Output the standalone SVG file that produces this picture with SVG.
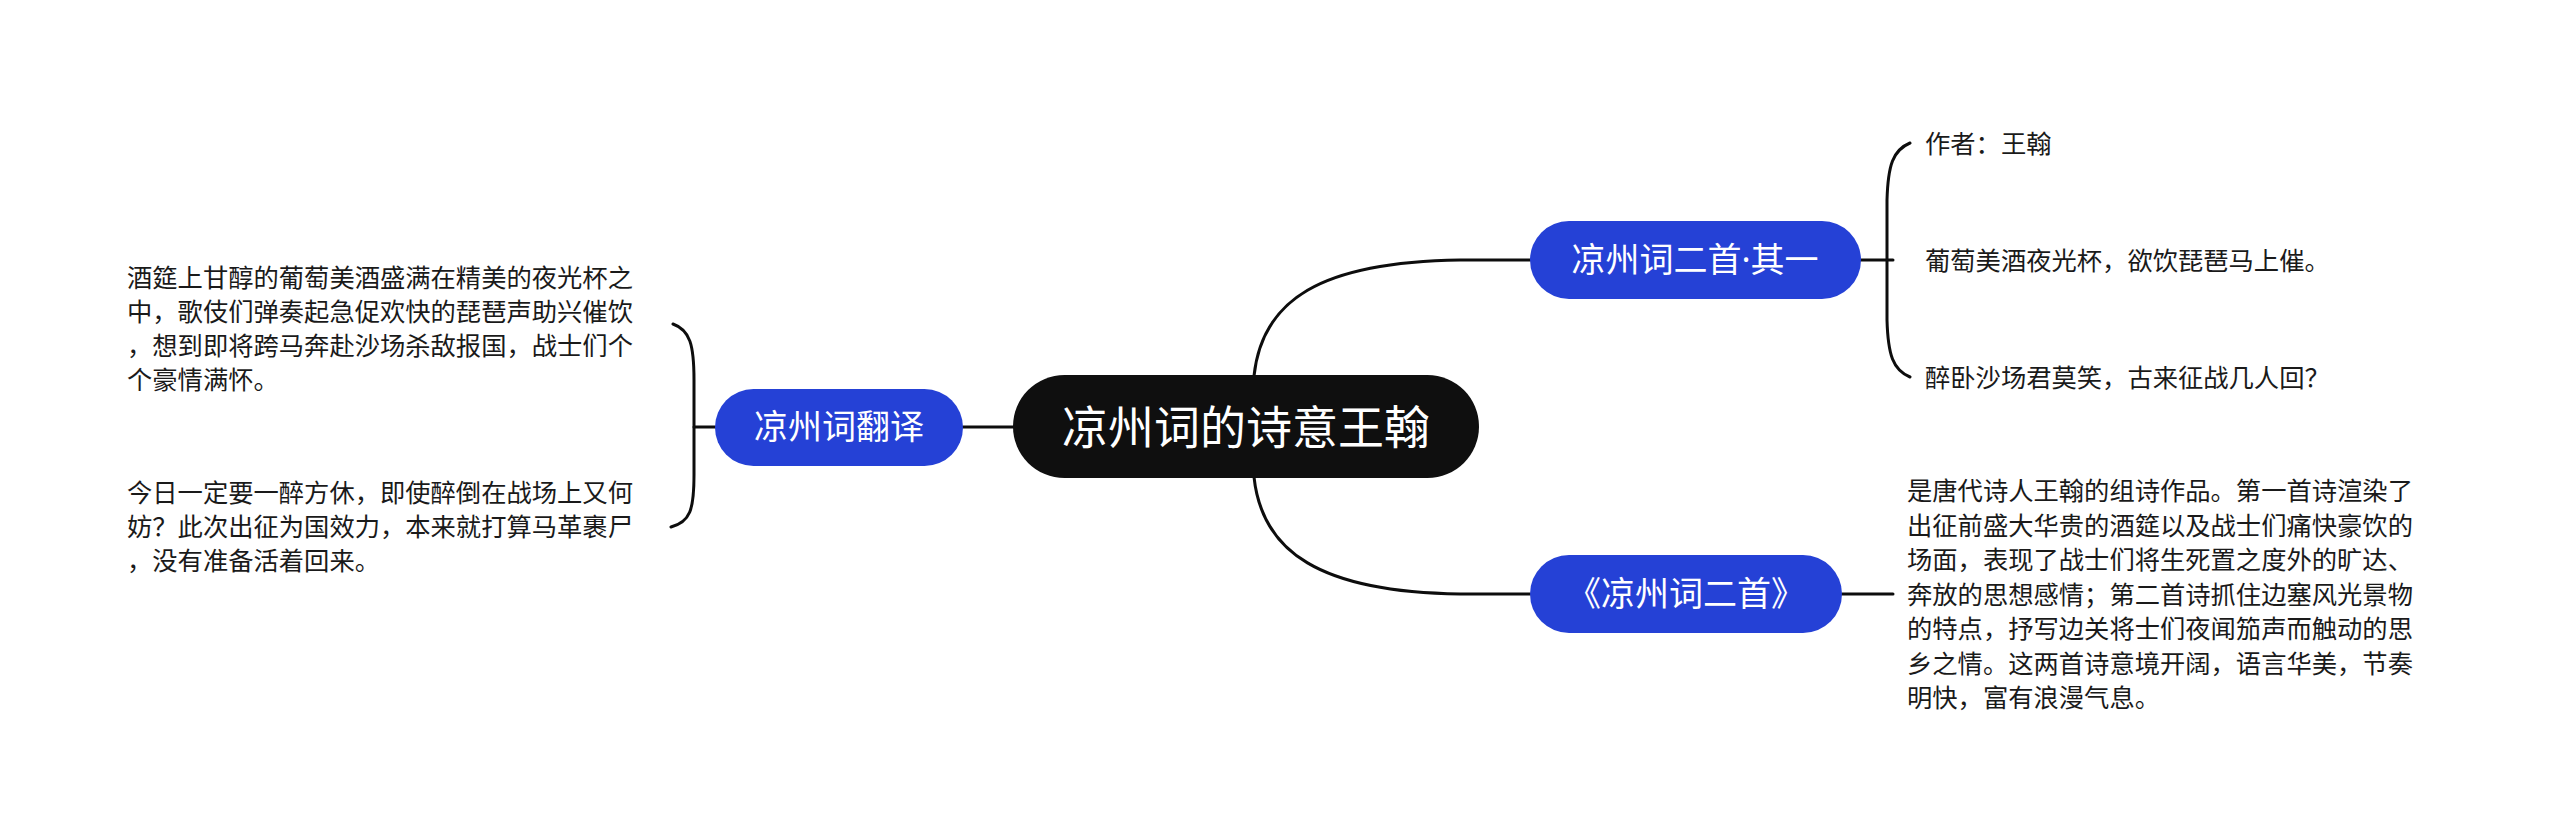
<svg xmlns="http://www.w3.org/2000/svg" width="2560" height="839" viewBox="0 0 2560 839">
<style>
.bg{fill:#ffffff}
.conn{fill:none;stroke:#0d0d0d;stroke-width:3;stroke-linecap:round}
.root{fill:#0f0f0f}
.sub{fill:#2541d6}
.t{font-family:"Noto Sans CJK SC","Noto Sans",sans-serif}
.rt{font-size:46px;fill:#ffffff;text-anchor:middle}
.st{font-size:34px;fill:#ffffff;text-anchor:middle}
.lt{font-size:25.3px;fill:#1a1a1a}
.dot{font-family:"Noto Sans",sans-serif}
</style>
<rect class="bg" x="0" y="0" width="2560" height="839"/>
<g id="connectors">
<path class="conn" d="M1254,376 C1262,300 1320,262 1460,260 L1530,260"/>
<path class="conn" d="M1254,477 C1262,552 1320,592 1460,594 L1530,594"/>
<path class="conn" d="M963,427 L1013,427"/>
<path class="conn" d="M715,427 L694,427"/>
<path class="conn" d="M673,324 C690,330 694,345 694,380 L694,475 C694,510 690,522 671,527"/>
<path class="conn" d="M1861,260 L1893,260"/>
<path class="conn" d="M1910,143 C1893,150 1888,165 1887,200 L1887,320 C1888,355 1893,370 1910,377"/>
<path class="conn" d="M1842,594 L1893,594"/>
</g>
<g id="root">
<rect class="root" x="1013" y="375" width="466" height="103" rx="51.5"/>
<text class="t rt" x="1246" y="444">凉州词的诗意王翰</text>
</g>
<g id="node-translation">
<rect class="sub" x="715" y="389" width="248" height="77" rx="38.5"/>
<text class="t st" x="839" y="439">凉州词翻译</text>
</g>
<g id="node-poem1">
<rect class="sub" x="1530" y="221" width="331" height="78" rx="39"/>
<text class="t st" x="1695" y="272">凉州词二首<tspan class="dot">·</tspan>其一</text>
</g>
<g id="node-poems">
<rect class="sub" x="1530" y="555" width="312" height="78" rx="39"/>
<text class="t st" x="1686" y="606">《凉州词二首》</text>
</g>
<g id="leaf-author">
<text class="t lt" x="1925" y="153">作者：王翰</text>
</g>
<g id="leaf-line1">
<text class="t lt" x="1925" y="270">葡萄美酒夜光杯，欲饮琵琶马上催。</text>
</g>
<g id="leaf-line2">
<text class="t lt" x="1925" y="387">醉卧沙场君莫笑，古来征战几人回？</text>
</g>
<g id="leaf-intro">
<text class="t lt" x="1907" y="500">是唐代诗人王翰的组诗作品。第一首诗渲染了</text>
<text class="t lt" x="1907" y="534.5">出征前盛大华贵的酒筵以及战士们痛快豪饮的</text>
<text class="t lt" x="1907" y="569">场面，表现了战士们将生死置之度外的旷达、</text>
<text class="t lt" x="1907" y="603.5">奔放的思想感情；第二首诗抓住边塞风光景物</text>
<text class="t lt" x="1907" y="638">的特点，抒写边关将士们夜闻笳声而触动的思</text>
<text class="t lt" x="1907" y="672.5">乡之情。这两首诗意境开阔，语言华美，节奏</text>
<text class="t lt" x="1907" y="707">明快，富有浪漫气息。</text>
</g>
<g id="leaf-trans1">
<text class="t lt" x="127" y="287">酒筵上甘醇的葡萄美酒盛满在精美的夜光杯之</text>
<text class="t lt" x="127" y="321">中，歌伎们弹奏起急促欢快的琵琶声助兴催饮</text>
<text class="t lt" x="127" y="355">，想到即将跨马奔赴沙场杀敌报国，战士们个</text>
<text class="t lt" x="127" y="389">个豪情满怀。</text>
</g>
<g id="leaf-trans2">
<text class="t lt" x="127" y="502">今日一定要一醉方休，即使醉倒在战场上又何</text>
<text class="t lt" x="127" y="536">妨？此次出征为国效力，本来就打算马革裹尸</text>
<text class="t lt" x="127" y="570">，没有准备活着回来。</text>
</g>
</svg>
